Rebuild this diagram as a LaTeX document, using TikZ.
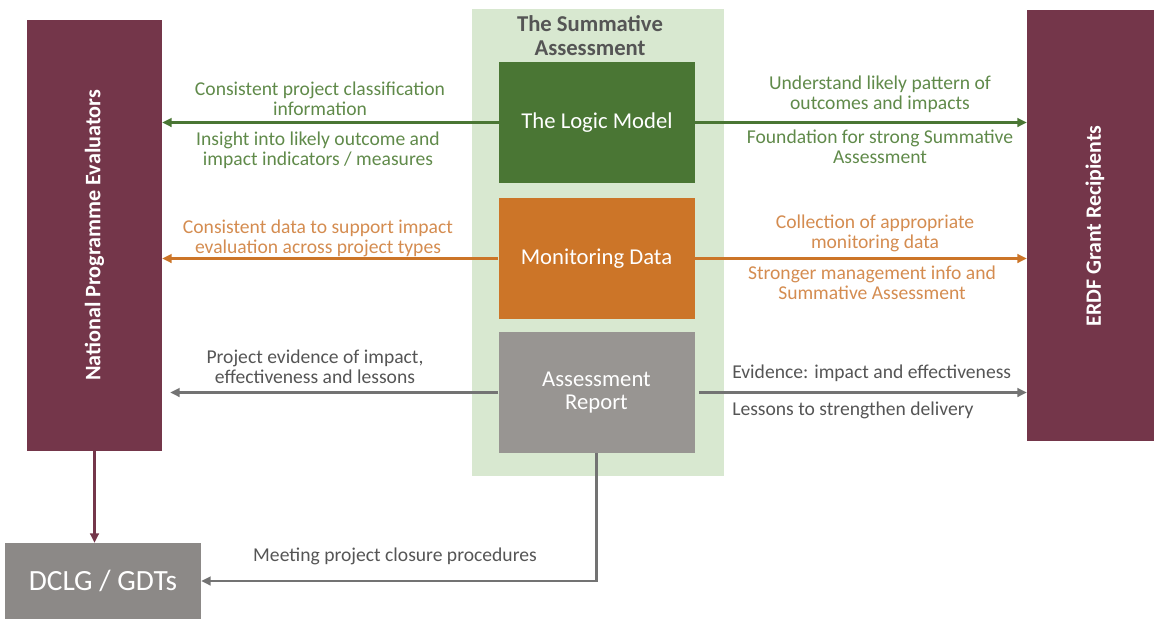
\documentclass[tikz,border=0pt]{standalone}
\usepackage{fontspec}
\setmainfont{Carlito}
\usetikzlibrary{arrows.meta}

\definecolor{evalred}{RGB}{116,54,74}
\definecolor{modelgreen}{RGB}{74,118,52}
\definecolor{palegreen}{RGB}{216,232,208}
\definecolor{dataorange}{RGB}{204,117,40}
\definecolor{reportgray}{RGB}{152,149,146}
\definecolor{dclggray}{RGB}{140,137,135}
\definecolor{greentext}{RGB}{96,138,74}
\definecolor{orangetext}{RGB}{212,140,80}
\definecolor{graytext}{RGB}{85,85,85}
\definecolor{grayline}{RGB}{115,115,115}

\tikzset{
  box/.style={inner sep=0pt, text=white, align=center},
  sidebox/.style={box, fill=evalred, minimum height=323.25pt},
  midbox/.style={box, minimum width=147pt, minimum height=90.75pt, font=\fontsize{17}{17.5}\selectfont},
  lbl/.style={align=center, inner sep=0pt, font=\fontsize{14.7}{15}\selectfont},
  link/.style={line width=1.7pt, -{Triangle[length=7pt,width=6.5pt]}},
}

\begin{document}
\begin{tikzpicture}[x=0.75pt,y=-0.75pt]
\useasboundingbox (0,0) rectangle (1154,619);

% the summative assessment panel
\node[fill=palegreen, minimum width=189pt, minimum height=350.25pt, inner sep=0pt] (panel) at (598,242.5) {};
\node[align=center, inner sep=0pt, text=graytext, font=\bfseries\fontsize{17}{17.5}\selectfont] (title) at (590,35.5) {The Summative\\Assessment};

\node[midbox, fill=modelgreen] (logic) at (597,122.5) {The Logic Model};
\node[midbox, fill=dataorange] (monitor) at (596.5,258.5) {Monitoring Data};
\node[midbox, fill=reportgray] (report) at (596.5,392.5) {Assessment\\Report};

% outside parties
\node[sidebox, minimum width=101.25pt] (npe) at (94.5,235.5) {};
\node[rotate=90, text=white, font=\bfseries\fontsize{16.6}{18}\selectfont] at (npe.center) {National Programme Evaluators};
\node[sidebox, minimum width=95.25pt] (erdf) at (1090.5,225.5) {};
\node[rotate=90, text=white, font=\bfseries\fontsize{16.4}{18}\selectfont] at (1095,226) {ERDF Grant Recipients};
\node[box, fill=dclggray, minimum width=147pt, minimum height=57pt, font=\fontsize{22}{24}\selectfont] (dclg) at (103,581) {DCLG / GDTs};

% links
\draw[link, modelgreen] (logic.west) -- (logic.west -| npe.east);
\draw[link, modelgreen] (logic.east) -- (logic.east -| erdf.west);
\draw[link, dataorange] (monitor.west) -- (monitor.west -| npe.east);
\draw[link, dataorange] (monitor.east) -- (monitor.east -| erdf.west);
\draw[link, grayline] (report.west) -- ([xshift=6pt]report.west -| npe.east);
\draw[link, grayline] ([xshift=3pt]report.east) -- (report.east -| erdf.west);
\draw[link, grayline] (report.south) |- (dclg.east);
\draw[link, evalred] (npe.south) -- (npe.south |- dclg.north);

% labels, left side
\node[lbl, text=greentext] (classinfo) at (320,99) {Consistent project classification\\information};
\node[lbl, text=greentext] (insight) at (318,150.5) {Insight into likely outcome and\\impact indicators / measures};
\node[lbl, text=orangetext] (consdata) at (318,238.5) {Consistent data to support impact\\evaluation across project types};
\node[lbl, text=graytext] (evidence) at (315,367) {Project evidence of impact,\\effectiveness and lessons};
\node[lbl, text=graytext] (closure) at (395,556) {Meeting project closure procedures};

% labels, right side
\node[lbl, text=greentext] (pattern) at (880,94.5) {Understand likely pattern of\\outcomes and impacts};
\node[lbl, text=greentext] (foundation) at (880,147) {Foundation for strong Summative\\Assessment};
\node[lbl, text=orangetext] (collection) at (875,233.5) {Collection of appropriate\\monitoring data};
\node[lbl, text=orangetext] (stronger) at (872,283) {Stronger management info and\\Summative Assessment};
\node[lbl, text=graytext, anchor=west] (impact) at (732,373) {Evidence: impact and effectiveness};
\node[lbl, text=graytext, anchor=west] (lessons) at (732,410) {Lessons to strengthen delivery};
\end{tikzpicture}
\end{document}
